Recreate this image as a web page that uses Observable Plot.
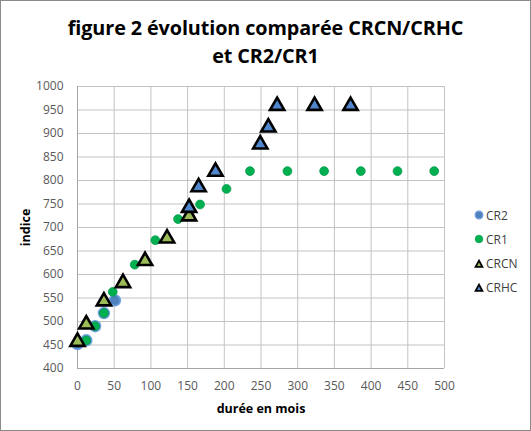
<!DOCTYPE html>
<html>
<head>
<meta charset="utf-8">
<script src="https://cdn.jsdelivr.net/npm/d3@7"></script>
<script src="https://cdn.jsdelivr.net/npm/@observablehq/plot@0.6"></script>
<style>
  html, body { margin: 0; padding: 0; background: #fff; }
  #chart { position: relative; width: 531px; height: 431px; overflow: hidden; background: #fff; font-family: "Open Sans", sans-serif; }
  #frame { position: absolute; left: 0; top: 0; width: 531px; height: 431px; box-sizing: border-box; border: 1px solid #8a8a8a; pointer-events: none; }
  #title { position: absolute; left: 0; top: 14px; width: 531px; text-align: center; font-weight: bold; font-size: 19.8px; line-height: 28px; color: #000; letter-spacing: -0.1px; }
  #plot { position: absolute; left: 0; top: 75px; }
  #legend { position: absolute; left: 473px; top: 206px; font-size: 12px; color: #404040; }
  .item { position: absolute; left: 0; height: 18px; display: flex; align-items: center; white-space: nowrap; }
  .item svg { display: block; margin-right: 1px; }
</style>
</head>
<body>
<div id="chart">
  <div id="title">figure 2 évolution comparée CRCN/CRHC<br>et CR2/CR1</div>
  <div id="plot"></div>
  <div id="legend"></div>
  <div id="frame"></div>
</div>
<script>
// ---- data ----
const xTicks = [0, 50, 100, 150, 200, 250, 300, 350, 400, 450, 500];
const yTicks = [400, 450, 500, 550, 600, 650, 700, 750, 800, 850, 900, 950, 1000];

const seriesNames = ["CR2", "CR1", "CRCN", "CRHC"];

const cr2X = [0, 12, 24, 36, 51];
const cr2Y = [452, 460, 490, 518, 545];

const cr1X = [12, 24, 36, 48, 78, 106, 137, 167, 203, 235, 286, 336, 386, 436, 486];
const cr1Y = [460, 490, 518, 563, 621, 673, 718, 749, 782, 820, 820, 820, 820, 820, 820];

const crcnX = [0, 12, 36, 62, 92, 122, 152];
const crcnY = [457, 494, 543, 582, 629, 677, 724];

const crhcX = [152, 165, 188, 249, 260, 272, 323, 372];
const crhcY = [742, 786, 819, 877, 913, 959, 959, 959];

const toRows = (xs, ys) => xs.map((x, i) => ({x, y: ys[i]}));
const cr2 = toRows(cr2X, cr2Y);
const cr1 = toRows(cr1X, cr1Y);
const crcn = toRows(crcnX, crcnY);
const crhc = toRows(crhcX, crhcY);

const styles = {
  CR2: {symbol: "circle", fill: "#4f81bd", stroke: "#6e9fe0", strokeWidth: 1.6, r: 5.4},
  CR1: {symbol: "circle", fill: "#00b050", stroke: "#00994a", strokeWidth: 0.8, r: 4.4},
  CRCN: {symbol: "triangle", fill: "#9bbb59", stroke: "#000", strokeWidth: 2.6, r: 5.3},
  CRHC: {symbol: "triangle", fill: "#4f86cc", stroke: "#000", strokeWidth: 2.6, r: 5.3}
};

const plot = Plot.plot({
  width: 531,
  height: 356,
  marginTop: 11,
  marginBottom: 63,
  marginLeft: 77,
  marginRight: 87,
  style: {fontFamily: "'Open Sans', sans-serif", fontSize: "12px", color: "#595959", background: "transparent", overflow: "visible"},
  x: {domain: [0, 500]},
  y: {domain: [400, 1000]},
  marks: [
    Plot.gridX(xTicks, {stroke: "#c3c3c3", strokeOpacity: 1}),
    Plot.gridY(yTicks, {stroke: "#c3c3c3", strokeOpacity: 1}),
    Plot.ruleX([0], {stroke: "#a6a6a6"}),
    Plot.ruleY([400], {stroke: "#a6a6a6"}),
    Plot.axisX(xTicks, {tickSize: 0, tickPadding: 13, label: null, fill: "#595959", tickFormat: d3.format("d")}),
    Plot.axisY(yTicks, {tickSize: 0, tickPadding: 14, label: null, fill: "#595959", tickFormat: d3.format("d")}),
    Plot.axisX([], {label: "durée en mois", labelAnchor: "center", labelArrow: "none", labelOffset: 44, fontWeight: "bold", fontSize: 12.5, fill: "#000"}),
    Plot.axisY([], {label: "indice", labelAnchor: "center", labelArrow: "none", labelOffset: 56, fontWeight: "bold", fontSize: 12.5, fill: "#000"}),
    Plot.dot(cr2, {x: "x", y: "y", ...styles.CR2}),
    Plot.dot(cr1, {x: "x", y: "y", ...styles.CR1}),
    Plot.dot(crcn, {x: "x", y: "y", ...styles.CRCN}),
    Plot.dot(crhc, {x: "x", y: "y", ...styles.CRHC})
  ]
});
document.getElementById("plot").appendChild(plot);

// ---- legend ----
const legend = document.getElementById("legend");
seriesNames.forEach((name, i) => {
  const s = styles[name];
  const item = document.createElement("div");
  item.className = "item";
  item.style.top = (i * 24.3) + "px";
  let marker;
  if (s.symbol === "circle") {
    marker = `<svg width="12" height="12" viewBox="-6 -6 12 12"><circle r="${name === "CR2" ? 3.8 : 3.8}" fill="${s.fill}" stroke="${s.stroke}" stroke-width="${name === "CR2" ? 1.3 : 0.7}"/></svg>`;
  } else {
    marker = `<svg width="12" height="12" viewBox="-6 -6 12 12"><path d="M0,-3.4L3.4,2.8L-3.4,2.8Z" fill="${s.fill}" stroke="#000" stroke-width="1.8" stroke-linejoin="miter"/></svg>`;
  }
  item.innerHTML = marker + `<span>${name}</span>`;
  legend.appendChild(item);
});
</script>
</body>
</html>
